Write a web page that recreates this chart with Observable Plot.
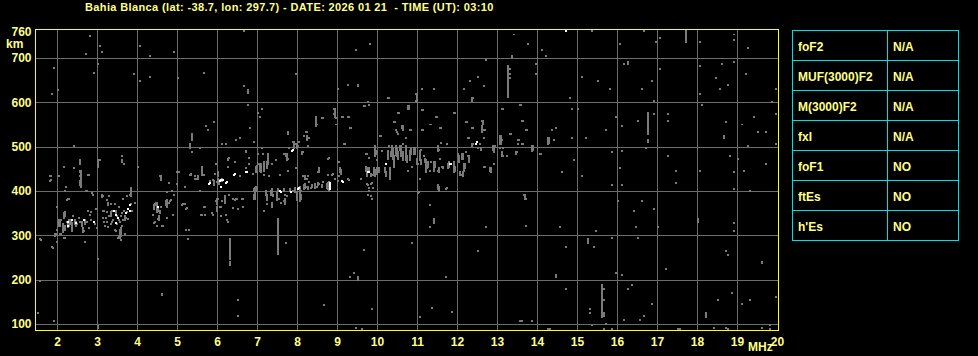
<!DOCTYPE html>
<html><head><meta charset="utf-8">
<script src="https://cdn.jsdelivr.net/npm/d3@7"></script>
<script src="https://cdn.jsdelivr.net/npm/@observablehq/plot@0.6"></script>
<style>
html,body{margin:0;padding:0;background:#000;}
#wrap{position:relative;width:978px;height:356px;overflow:hidden;font-family:"Liberation Sans",Arial,sans-serif;font-weight:bold;color:#ffff88;}
#title{position:absolute;left:85px;top:0px;font-size:11px;line-height:14px;letter-spacing:0.37px;white-space:pre;}
#km{position:absolute;left:6px;top:37px;font-size:12px;line-height:14px;}
#mhz{position:absolute;left:748px;top:340px;font-size:12px;line-height:14px;}
#tbl{position:absolute;left:792px;top:30px;display:grid;grid-template-columns:95px 71px;border-top:1px solid #00e0e0;border-left:1px solid #00e0e0;}
#tbl div{box-sizing:border-box;height:30px;border-right:1px solid #00e0e0;border-bottom:1px solid #00e0e0;font-size:12px;line-height:29px;padding-left:5px;padding-top:2px;color:#ffff88;}
#chart{position:absolute;left:0;top:0;}
</style></head>
<body>
<div id="wrap">
<div id="chart"></div>
<div id="title"></div>
<div id="km">km</div>
<div id="mhz">MHz</div>
<div id="tbl"></div>
</div>
<script>
const titleText = "Bahia Blanca (lat: -38.7, lon: 297.7) - DATE: 2026 01 21  - TIME (UT): 03:10";
const paramNames = ["foF2","MUF(3000)F2","M(3000)F2","fxI","foF1","ftEs","h'Es"];
const paramValues = ["N/A","N/A","N/A","N/A","NO","NO","NO"];
const xTicks = [2,3,4,5,6,7,8,9,10,11,12,13,14,15,16,17,18,19,20];
const yTicks = [100,200,300,400,500,600,700,760];
const xGrid = [2,3,4,5,6,7,8,9,10,11,12,13,14,15,16,17,18,19];
const yGrid = [100,200,300,400,500,600,700];

// gray echoes: [freq MHz, height low km, height high km]
const grayEchoes = [
[2.83,749,749],[3.08,726,726],[3.13,713,713],[2.73,708,708],[4.08,726,726],[4.33,704,704],[4.93,713,713],[3.03,686,686],[2.93,667,667],[1.93,677,677],[3.93,663,663],[4.08,649,649],[4.33,658,658],[5.03,654,654],[5.68,667,667],[2.03,627,627],[1.88,618,618],[6.68,762,762],[6.68,636,636],[6.78,622,627],[6.78,595,595],[7.13,586,586],[7.03,577,577],[7.08,568,568],[7.98,663,663],[9.03,631,631],[9.28,640,640],[9.53,636,640],[9.48,717,717],[9.83,731,731],[10.28,609,609],[9.78,600,600],[9.68,591,591],[8.93,586,586],[8.93,573,573],[9.13,568,568],[9.28,568,568],[8.98,564,564],[8.98,550,550],[9.33,541,541],[10.53,577,577],[10.78,586,591],[10.43,555,555],[10.63,541,546],[10.48,537,537],[10.53,528,528],[10.73,519,519],[10.08,523,523],[9.18,505,505],[8.48,546,568],[8.63,564,564],[8.23,532,532],[8.28,519,519],[8.18,523,523],[7.78,528,532],[7.93,496,510],[7.98,505,505],[8.03,501,501],[8.28,501,501],[7.73,478,483],[7.68,483,483],[7.78,473,473],[8.13,483,487],[7.48,469,469],[7.28,460,483],[7.18,446,465],[7.03,483,483],[7.03,460,460],[6.93,510,510],[7.13,496,496],[6.73,487,491],[6.48,514,514],[6.58,519,519],[6.13,505,505],[6.23,505,505],[5.78,537,537],[5.73,546,546],[5.93,555,555],[6.83,541,541],[5.38,514,528],[5.33,496,505],[5.58,496,496],[5.38,487,487],[2.43,501,501],[3.63,478,478],[3.63,465,469],[3.68,460,460],[3.03,455,469],[3.08,469,469],[2.58,460,469],[2.58,442,446],[2.18,455,455],[2.43,451,451],[2.78,437,437],[2.58,433,433],[1.83,433,433],[2.03,433,433],[4.03,455,455],[4.58,433,433],[5.03,442,442],[5.33,437,437],[5.53,428,433],[5.63,437,455],[5.68,437,437],[5.98,460,460],[6.03,433,442],[6.28,469,473],[6.28,455,455],[6.73,451,451],[6.58,433,433],[6.98,442,455],[7.08,446,460],[7.18,437,437],[7.38,460,460],[7.58,437,437],[7.78,446,446],[7.98,451,451],[8.18,433,433],[8.28,433,433],[8.53,442,442],[8.78,473,473],[8.78,437,437],[8.88,437,437],[9.03,465,465],[9.08,442,451],[9.73,483,483],[9.73,446,455],[9.93,437,451],[9.98,483,483],[10.03,451,451],[9.98,491,491],[10.13,491,491],[10.28,473,491],[10.38,487,501],[10.43,455,478],[10.48,482,501],[10.53,473,487],[10.58,492,501],[10.73,469,487],[10.33,428,451],[10.23,433,442],
[13.43,753,753],[13.78,731,731],[14.13,717,717],[14.23,704,704],[13.38,699,704],[15.38,762,762],[16.68,762,762],[17.73,735,762],[17.08,744,744],[16.98,735,735],[16.08,731,731],[18.08,735,735],[18.93,753,753],[18.93,740,740],[19.28,722,722],[12.73,695,695],[13.28,613,681],[13.33,676,676],[13.33,663,663],[13.33,654,654],[13.98,686,686],[13.98,663,663],[12.53,658,658],[12.33,649,649],[12.68,636,636],[12.18,631,631],[11.13,631,631],[11.43,631,631],[10.98,618,618],[10.98,604,604],[12.38,604,609],[14.83,609,609],[15.13,658,658],[15.53,649,649],[15.83,631,631],[16.18,686,686],[16.28,686,690],[16.63,631,631],[16.88,649,649],[17.08,676,676],[16.93,604,604],[18.08,681,681],[18.63,686,686],[18.93,690,690],[19.23,663,663],[18.48,654,654],[18.78,640,640],[18.58,631,631],[18.08,618,618],[19.98,631,631],[18.13,595,595],[19.88,600,600],[19.98,573,573],[11.13,582,582],[11.48,568,568],[11.93,577,577],[13.13,586,586],[13.58,595,595],[13.63,559,559],[14.88,586,586],[15.03,586,586],[15.98,568,568],[16.78,528,577],[16.93,573,573],[17.28,573,573],[17.28,559,559],[16.53,559,559],[16.13,546,546],[15.73,537,537],[16.78,510,514],[18.73,555,555],[19.13,550,550],[19.43,568,568],[19.53,532,532],[19.73,532,532],[18.68,519,523],[10.83,537,537],[11.13,537,537],[11.33,550,550],[11.58,541,541],[10.73,519,519],[12.23,555,555],[12.63,559,559],[12.38,541,541],[12.63,537,546],[12.68,537,537],[12.63,532,532],[12.28,519,519],[12.68,519,519],[12.58,505,505],[12.38,501,505],[13.08,505,523],[13.13,514,514],[13.33,528,528],[13.53,514,514],[13.53,505,505],[13.63,505,505],[13.73,537,537],[14.28,505,519],[14.38,537,537],[14.48,541,541],[14.43,514,514],[14.88,519,519],[15.23,519,519],[16.73,496,496],[16.13,491,491],[15.88,487,487],[13.88,491,501],[14.08,483,483],[14.93,469,469],[14.63,442,442],[15.13,433,433],[16.08,451,451],[17.28,478,478],[17.48,446,446],[18.08,446,446],[18.83,478,478],[19.03,473,473],[19.18,446,446],[18.93,442,442],[19.73,460,460],[19.28,501,501],[19.98,505,505],
[10.73,483,501],[10.83,469,491],[10.93,483,496],[11.08,469,491],[11.18,478,478],[11.23,442,469],[11.28,455,465],[11.43,446,465],[11.53,491,501],[11.58,473,473],[11.63,455,455],[11.78,451,460],[11.93,442,465],[12.03,483,483],[12.13,473,483],[12.08,437,442],[12.18,446,460],[12.23,487,487],[12.28,478,478],[12.68,455,455],[12.83,446,451],[12.93,487,501],[12.93,460,460],[13.08,496,496],[13.13,478,487],[13.48,483,487],[12.53,496,496],[10.78,446,446],[10.88,455,455],[11.03,460,460],[11.33,446,446],[11.53,446,446],
[2.58,413,422],[1.83,422,422],[2.23,408,408],[2.73,399,399],[2.88,395,395],[2.28,381,381],[2.18,340,350],[2.03,331,331],[2.08,322,331],[1.98,300,304],[2.08,304,304],[2.18,295,295],[2.28,318,331],[2.33,331,331],[2.38,309,327],[2.48,322,331],[2.58,331,331],[2.63,322,331],[2.78,354,354],[2.68,309,309],[2.83,345,345],[2.98,359,359],[1.58,291,291],[1.88,273,273],[3.03,246,246],[3.13,386,390],[3.28,368,372],[3.18,354,354],[3.23,340,340],[3.18,331,331],[3.28,318,318],[3.38,354,354],[3.48,345,354],[3.58,331,331],[3.38,331,331],[3.63,350,350],[3.68,354,354],[3.58,295,313],[3.53,295,295],[3.48,309,309],[3.63,322,322],[3.83,390,390],[3.88,354,354],[3.73,340,340],[3.78,336,336],[4.43,359,368],[4.48,368,372],[4.53,354,363],[4.58,350,354],[4.73,368,377],[4.83,377,377],[4.63,322,322],[4.43,327,327],[4.53,336,336],[4.88,399,399],[4.93,390,390],[5.13,368,368],[5.23,359,359],[5.23,313,313],[5.28,291,291],[5.58,399,399],[5.68,363,363],[5.63,345,345],[5.88,350,350],[5.98,377,377],[6.03,381,381],[6.08,363,363],[6.13,377,377],[6.23,345,345],[6.28,331,331],[6.33,246,291],[6.33,232,241],[6.48,381,381],[6.53,359,359],[6.63,381,381],[6.93,381,390],[6.98,399,408],[7.18,354,354],[7.38,363,372],[7.53,259,336],[7.73,282,282],[7.68,377,377],[8.08,377,390],[6.53,155,155],[6.53,119,119],[4.63,165,165],[8.68,142,142],[9.88,133,133],[9.68,268,268],[9.33,205,205],[9.43,214,214],[9.53,200,205],[1.58,196,196],[1.53,124,124],[1.93,106,106],[3.03,92,92],[9.48,92,92],[9.63,88,88],
[5.83,417,422],[5.93,413,422],[6.03,417,426],[6.13,422,426],[6.93,399,404],[7.23,390,399],[7.38,395,404],[7.53,399,404],[7.68,399,404],[7.83,399,404],[8.08,386,408],[8.18,404,413],[8.28,404,408],[8.38,408,413],[8.53,413,417],[8.63,408,413],[8.78,404,417],[9.03,422,422],[9.28,426,426],[9.78,413,413],[9.88,417,417],[9.88,381,381],[9.78,390,390],
[7.14,483,483],[7.24,451,465],[7.09,442,460],[6.99,456,456],[6.99,442,442],[6.79,474,474],[6.79,460,460],[6.89,438,438],[5.44,428,428],[5.49,428,428],[5.34,438,438],[5.19,410,410],[5.89,424,424],[5.99,420,420],[6.04,415,424],[6.29,474,474],[6.44,465,465],[5.94,438,438],[5.99,370,383],[5.99,356,365],[6.19,374,388],[6.09,365,365],[6.29,392,392],[6.39,383,383],[6.44,379,379],[6.49,383,383],[6.64,383,383],[6.39,361,361],[5.59,347,347],[5.69,347,347],[5.69,365,365],[5.19,370,370],[5.24,361,361],[5.89,347,347],[6.09,343,343],[6.24,334,334],[6.64,365,365],[6.94,383,406],[6.99,406,406],[7.24,379,392],[7.34,392,401],[7.39,388,392],[7.49,379,397],[7.54,401,401],[7.69,392,392],[7.74,388,388],[7.89,401,401],[7.94,397,406],[8.09,401,401],[7.99,379,397],[8.09,383,392],[8.19,406,415],[8.24,410,410],[8.34,406,406],[8.44,406,415],[8.49,410,410],[8.54,415,415],[8.64,420,420],[8.74,406,415],[8.79,401,420],[8.89,438,438],[8.94,428,428],[9.04,433,433],[9.29,424,424],[9.09,438,447],[9.04,465,465],[8.54,442,451],[8.79,474,474],[8.19,428,433],[8.24,428,428],[8.14,433,433],[8.29,420,420],[7.29,433,433],[7.54,383,383],[7.59,374,374],[7.69,370,383],[7.24,370,370],
[7.89,510,510],[7.99,496,505],[8.04,510,510],[7.74,469,483],[7.69,483,483],[7.79,496,496],[8.14,487,487],[8.24,532,532],[8.24,514,523],[8.29,519,519],[8.49,550,550],[8.64,564,564],[8.94,568,586],[9.14,568,568],[9.29,568,568],[9.34,541,541],[9.19,505,505],[9.69,591,591],[9.79,595,595],[9.74,483,483],[9.79,474,474],[9.94,478,501],[9.99,487,487],[9.84,433,438],[9.94,433,447],[9.99,438,451],[9.74,415,415],[9.79,401,401],[9.89,406,406],[9.84,388,388],
[10.29,609,609],[10.99,600,618],[9.69,591,591],[10.79,586,591],[11.14,582,582],[11.49,568,568],[11.94,577,577],[10.54,577,577],[10.44,555,555],[10.64,537,546],[10.49,532,532],[10.84,537,537],[11.34,550,550],[11.14,537,537],[11.59,541,541],[10.09,523,523],[9.34,541,541],[12.24,555,555],[12.39,541,541],[12.64,550,559],[12.69,537,537],[12.29,519,519],[11.74,505,505],[11.59,509,509],[11.09,492,492],[11.54,492,492],[10.64,505,505],[10.29,501,501],[12.39,505,505],[12.59,492,496],[12.89,492,501],[13.09,505,523],[13.14,496,496],[13.14,478,478],[12.39,609,609],[13.14,586,586],[13.59,595,595],[13.64,559,559],[13.74,537,537],[13.34,528,528],[13.54,514,514],[13.64,505,505],[13.89,492,501],[13.49,487,487],[14.09,483,483],[14.29,509,519],[9.74,483,483],[9.94,478,487],[9.99,469,469],[9.79,442,451],[10.04,442,451],[9.74,433,451],[9.89,437,437],[10.19,442,451],[10.34,478,487],[10.39,473,496],[10.49,478,496],[10.59,478,501],[10.64,469,487],[10.74,465,478],[10.84,483,496],[10.94,483,496],[10.99,460,473],[11.09,460,469],[11.19,465,473],[11.24,451,460],[11.34,465,465],[11.44,455,465],[11.54,442,451],[11.64,451,455],[11.79,455,465],[11.94,446,455],[12.04,465,478],[12.14,473,483],[12.19,451,460],[12.29,465,478],[12.14,433,442],[12.09,437,437],[12.69,455,455],[12.84,442,451],[12.94,501,501],[9.59,428,428],[9.84,415,415],[9.79,406,406],[11.54,401,410],[11.74,406,406],[11.04,397,397],[13.69,383,392],[13.24,478,478],
[1.84,433,433],[1.84,424,424],[2.04,433,433],[2.59,410,444],[2.79,437,437],[4.59,424,433],[4.99,442,442],[5.04,442,442],[5.34,437,437],[5.44,433,433],[5.49,428,428],[4.99,415,415],[5.19,410,410],[4.79,419,419],[2.19,399,399],[2.89,392,392],[2.74,401,401],[2.29,383,383],[2.24,379,379],[1.99,365,365],[2.19,343,352],[2.04,320,334],[2.09,334,334],[2.14,307,325],[2.19,311,320],[2.24,329,329],[2.29,320,334],[2.34,325,334],[2.39,343,343],[2.44,325,334],[2.49,325,325],[2.54,338,338],[2.64,307,316],[2.69,325,334],[2.74,329,329],[2.84,334,334],[2.84,352,352],[2.79,316,316],[2.94,325,325],[2.99,316,316],[1.99,311,311],[1.94,298,298],[2.09,302,302],[1.94,302,302],[1.59,289,289],[1.99,284,284],[2.19,293,293],[2.69,284,284],[1.89,271,271],[3.14,388,388],[3.24,379,379],[3.29,388,388],[3.34,370,370],[3.44,370,370],[3.54,365,365],[3.74,388,388],[3.84,388,406],[3.39,356,356],[3.24,352,352],[3.14,356,356],[3.29,343,343],[3.34,343,352],[3.49,343,343],[3.59,343,343],[3.64,334,334],[3.69,334,343],[3.74,352,352],[3.24,329,329],[3.14,338,338],[3.19,320,320],[3.34,325,325],[3.39,334,334],[3.49,325,325],[3.54,334,334],[3.44,311,311],[3.59,298,316],[3.54,298,298],[3.69,302,302],[3.84,370,370],[3.94,374,374],[3.64,383,383],[4.49,352,374],[4.54,356,356],[4.44,370,370],[4.59,365,365],[4.74,365,379],[4.79,374,374],[4.84,379,379],[4.74,397,397],[4.39,347,347],[4.44,329,329],[4.54,334,343],[4.49,320,320],[4.89,347,347],[4.64,320,320],[4.74,338,338],[5.14,370,370],[5.24,361,361],[5.29,311,311],[3.59,289,289],
[11.08,426,426],[11.53,404,413],[11.73,404,404],[11.03,395,395],[11.33,368,368],[11.43,327,336],[11.33,318,318],[10.88,282,282],[12.73,318,318],[12.53,264,264],[11.73,205,205],[11.38,137,137],[11.88,128,128],[11.08,115,115],[13.68,390,390],[13.73,381,381],[13.73,322,322],[13.58,106,106],[13.63,106,106],[13.88,106,106],[14.28,88,88],[14.33,88,88],[14.58,318,318],[14.73,273,273],[14.48,210,210],[14.48,205,205],[14.73,178,178],[15.28,282,291],[15.43,273,273],[15.48,309,309],[15.88,413,413],[16.13,413,413],[16.03,377,377],[16.63,377,377],[16.43,354,354],[16.93,359,359],[16.48,318,318],[17.03,318,318],[16.53,295,295],[15.88,295,295],[17.48,417,417],[18.93,404,404],[19.33,399,399],[18.03,331,336],[18.93,327,327],[18.93,309,309],[18.73,264,264],[18.78,255,255],[19.63,237,241],[17.23,223,223],[15.98,214,214],[16.13,210,210],[15.63,115,187],[15.68,178,178],[15.68,155,155],[15.68,119,124],[15.33,133,133],[15.33,124,124],[15.73,101,101],[15.38,97,97],[15.68,88,88],[15.88,88,88],[16.38,187,187],[16.28,178,178],[16.88,146,146],[16.68,119,119],[16.58,110,110],[16.18,110,110],[17.53,88,88],[17.58,88,88],[18.23,115,124],[18.53,155,155],[18.88,169,169],[19.13,146,146],[19.33,155,155],[18.43,92,92],[18.73,92,92],[18.78,88,88],[19.63,92,92],[19.83,97,97],[19.83,88,88],[19.98,160,160],[4.63,167,167],[1.58,198,198],[3.03,95,95]
];

// bright (white) echoes: [freq MHz, height low km, height high km]
const whiteEchoes = [
[6.43,437,437],[6.73,442,442],[7.88,491,491],[9.78,442,442],[10.23,460,460],[11.83,460,460],[12.48,505,505],[14.73,762,762],
[2.28,320,320],[2.28,331,331],[2.38,334,334],[2.48,327,327],[2.68,334,334],[2.93,331,331],[3.43,354,354],[3.48,345,345],[3.53,340,340],[3.48,327,327],[3.73,350,350],[3.78,359,359],[3.83,368,368],[3.83,354,354],[4.53,363,363],
[5.83,417,417],[6.08,422,422],[6.23,417,417],[7.58,399,399],[8.03,404,404],[8.83,404,417],[9.13,422,422],
[6.09,424,424],[5.79,415,415],[6.09,410,410],[6.14,424,424],[6.24,420,420],[6.44,438,438],[6.74,442,442],[7.59,397,397],[7.84,397,397],[8.04,406,406],[9.14,420,420],[9.79,442,442],[7.89,492,492],[12.49,510,510],[11.84,460,460]
];

document.getElementById("title").textContent = titleText;
const tbl = document.getElementById("tbl");
paramNames.forEach((n, i) => {
  const a = document.createElement("div"); a.textContent = n; tbl.appendChild(a);
  const b = document.createElement("div"); b.textContent = paramValues[i]; tbl.appendChild(b);
});

const halfW = 0.025, halfH = 2.25;
const chart = Plot.plot({
  width: 978, height: 356,
  marginLeft: 35, marginRight: 200, marginTop: 29, marginBottom: 26,
  x: {domain: [1.45, 20.025]},
  y: {domain: [86.5, 765.4]},
  style: {background: "#000", color: "#ffff88", fontFamily: "'Liberation Sans', Arial, sans-serif", fontSize: "12px", fontWeight: "bold"},
  marks: [
    Plot.gridX(xGrid, {stroke: "#6c6c6c", strokeOpacity: 1, shapeRendering: "crispEdges"}),
    Plot.gridY(yGrid, {stroke: "#6c6c6c", strokeOpacity: 1, shapeRendering: "crispEdges"}),
    Plot.rect(grayEchoes, {x1: d => d[0] - halfW, x2: d => d[0] + halfW, y1: d => d[1] - halfH, y2: d => d[2] + halfH, fill: "#7a7a7a", shapeRendering: "crispEdges"}),
    Plot.rect(whiteEchoes, {x1: d => d[0] - halfW, x2: d => d[0] + halfW, y1: d => d[1] - halfH, y2: d => d[2] + halfH, fill: "#ffffff", shapeRendering: "crispEdges"}),
    Plot.frame({stroke: "#ffff00", shapeRendering: "crispEdges"}),
    Plot.axisX(xTicks, {tickSize: 0, tickPadding: 7, label: null}),
    Plot.axisY(yTicks, {tickSize: 0, tickPadding: 4, label: null})
  ]
});
document.getElementById("chart").appendChild(chart);
</script>
</body></html>
